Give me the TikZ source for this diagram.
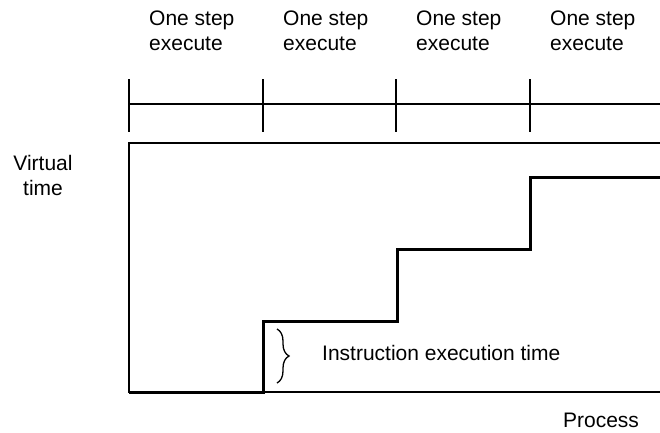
\documentclass[tikz,border=0pt]{standalone}
\usepackage{fontspec}
\setmainfont{Liberation Sans}
\usetikzlibrary{decorations.pathreplacing}
\begin{document}
\begin{tikzpicture}[x=1bp,y=-1bp,
  thinline/.style={line width=1.3bp,line cap=rect},
  stairline/.style={line width=3bp,line join=miter},
  lbl/.style={font=\fontsize{21bp}{25bp}\selectfont,inner sep=0pt},
  steplbl/.style={lbl,align=left,anchor=base west}]
\useasboundingbox (0,0) rectangle (660,432);
% ruler
\coordinate (r0) at (129,104);
\coordinate (rE) at (660,104);
\draw[thinline] (r0) -- (rE);
\foreach \x/\n in {129/t1,263/t2,396/t3,530/t4}{
  \coordinate (\n a) at (\x,80);
  \coordinate (\n b) at (\x,131);
  \draw[thinline] (\n a) -- (\n b);
}
% labels
\foreach \x/\n in {149/s1,283/s2,416/s3,550/s4}{
  \node[steplbl] (\n) at (\x,50) {One step\\execute};
}
\node[lbl,align=center,anchor=base] (vt) at (43,195) {Virtual\\time};
\node[lbl,anchor=base] (proc) at (601,427) {Process};
% frame
\coordinate (fTR) at (660,143);
\coordinate (fTL) at (129,143);
\coordinate (fBL) at (129,392);
\coordinate (fBR) at (660,392);
\draw[thinline,line cap=butt] (fTR) -- (fTL) -- (fBL) -- (fBR);
% staircase
\coordinate (p0) at (129,392);
\coordinate (p1) at (263,392);
\coordinate (p2) at (263,321);
\coordinate (p3) at (397,321);
\coordinate (p4) at (397,249);
\coordinate (p5) at (530,249);
\coordinate (p6) at (530,177);
\coordinate (p7) at (660,177);
\draw[stairline] (p0) -- (p1) -- (p2) -- (p3) -- (p4) -- (p5) -- (p6) -- (p7);
% brace
\coordinate (b1) at (277,329);
\coordinate (b2) at (277,383);
\draw[line width=1.3bp,decorate,decoration={brace,amplitude=12bp}] (b1) -- (b2);
\node[lbl,anchor=base west] (iet) at (322,360) {Instruction execution time};
\end{tikzpicture}
\end{document}
